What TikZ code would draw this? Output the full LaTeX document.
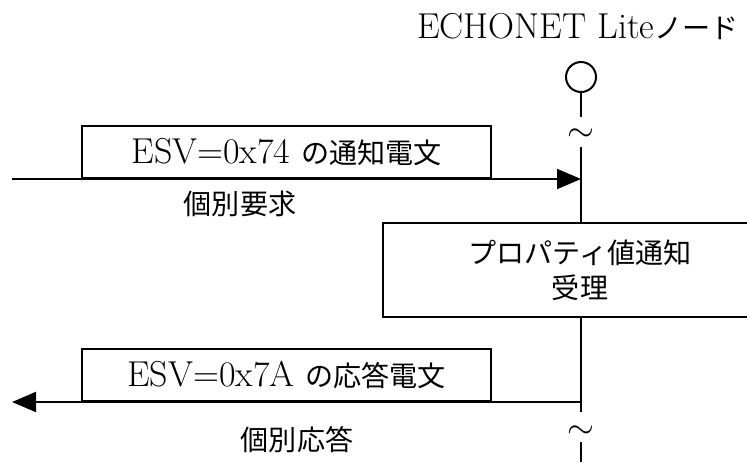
\documentclass[tikz,border=0pt]{standalone}
\usepackage{fontspec}
\newfontfamily\jp{Noto Sans CJK JP}[Scale=0.78]
\usetikzlibrary{arrows.meta}
\tikzset{
  px/.style={x=0.5pt,y=-0.5pt},
  lifeline/.style={line width=1pt},
  msgbox/.style={draw,line width=1pt,fill=white,inner sep=0pt,minimum width=204.5pt,minimum height=26pt,anchor=south west},
  procbox/.style={draw,line width=1pt,fill=white,inner sep=0pt,minimum width=197pt,minimum height=47pt,align=center},
  msgarrow/.style={line width=1pt,-{Triangle[length=12pt,width=10pt]}},
  lbl/.style={inner sep=0pt},
  wave/.style={inner sep=0pt,font=\fontsize{19}{20}\selectfont}
}
\begin{document}
\begin{tikzpicture}[px,font=\fontsize{18}{16.5}\selectfont]
\useasboundingbox (0,0) rectangle (747,462);
\begin{scope}
\clip (0,0) rectangle (747,462);
\fill[white] (0,0) rectangle (747,462);
% title and head
\node[lbl] (title) at (578,27) {ECHONET Lite{\jp ノード}};
\node[draw,circle,line width=1pt,minimum size=15pt,inner sep=0pt] (head) at (581,77) {};
\node[wave] (t1) at (581,135) {$\sim$};
\node[wave] (t2) at (581,432) {$\sim$};
\coordinate (a1) at (581,117);
\coordinate (a2) at (581,147);
\coordinate (a3) at (581,412);
\coordinate (a4) at (581,442);
\coordinate (a5) at (581,462);
\draw[lifeline] (head.south) -- (a1);
\draw[lifeline] (a2) -- (a3);
\draw[lifeline] (a4) -- (a5);
% request
\coordinate (reqL) at (12,179);
\coordinate (reqR) at (581,179);
\draw[msgarrow] (reqL) -- (reqR);
\node[msgbox] (req) at (81,179) {ESV=0x74 {\jp の通知電文}};
\node[lbl] (reqlbl) at (240,204) {\jp 個別要求};
% process
\node[procbox] (proc) at (580,270) {{\jp プロパティ値通知}\\[1pt]{\jp 受理}};
% response
\coordinate (resR) at (581,402);
\coordinate (resL) at (12,402);
\draw[msgarrow] (resR) -- (resL);
\node[msgbox] (res) at (81,402) {ESV=0x7A {\jp の応答電文}};
\node[lbl] (reslbl) at (297,440) {\jp 個別応答};
\end{scope}
\end{tikzpicture}
\end{document}
